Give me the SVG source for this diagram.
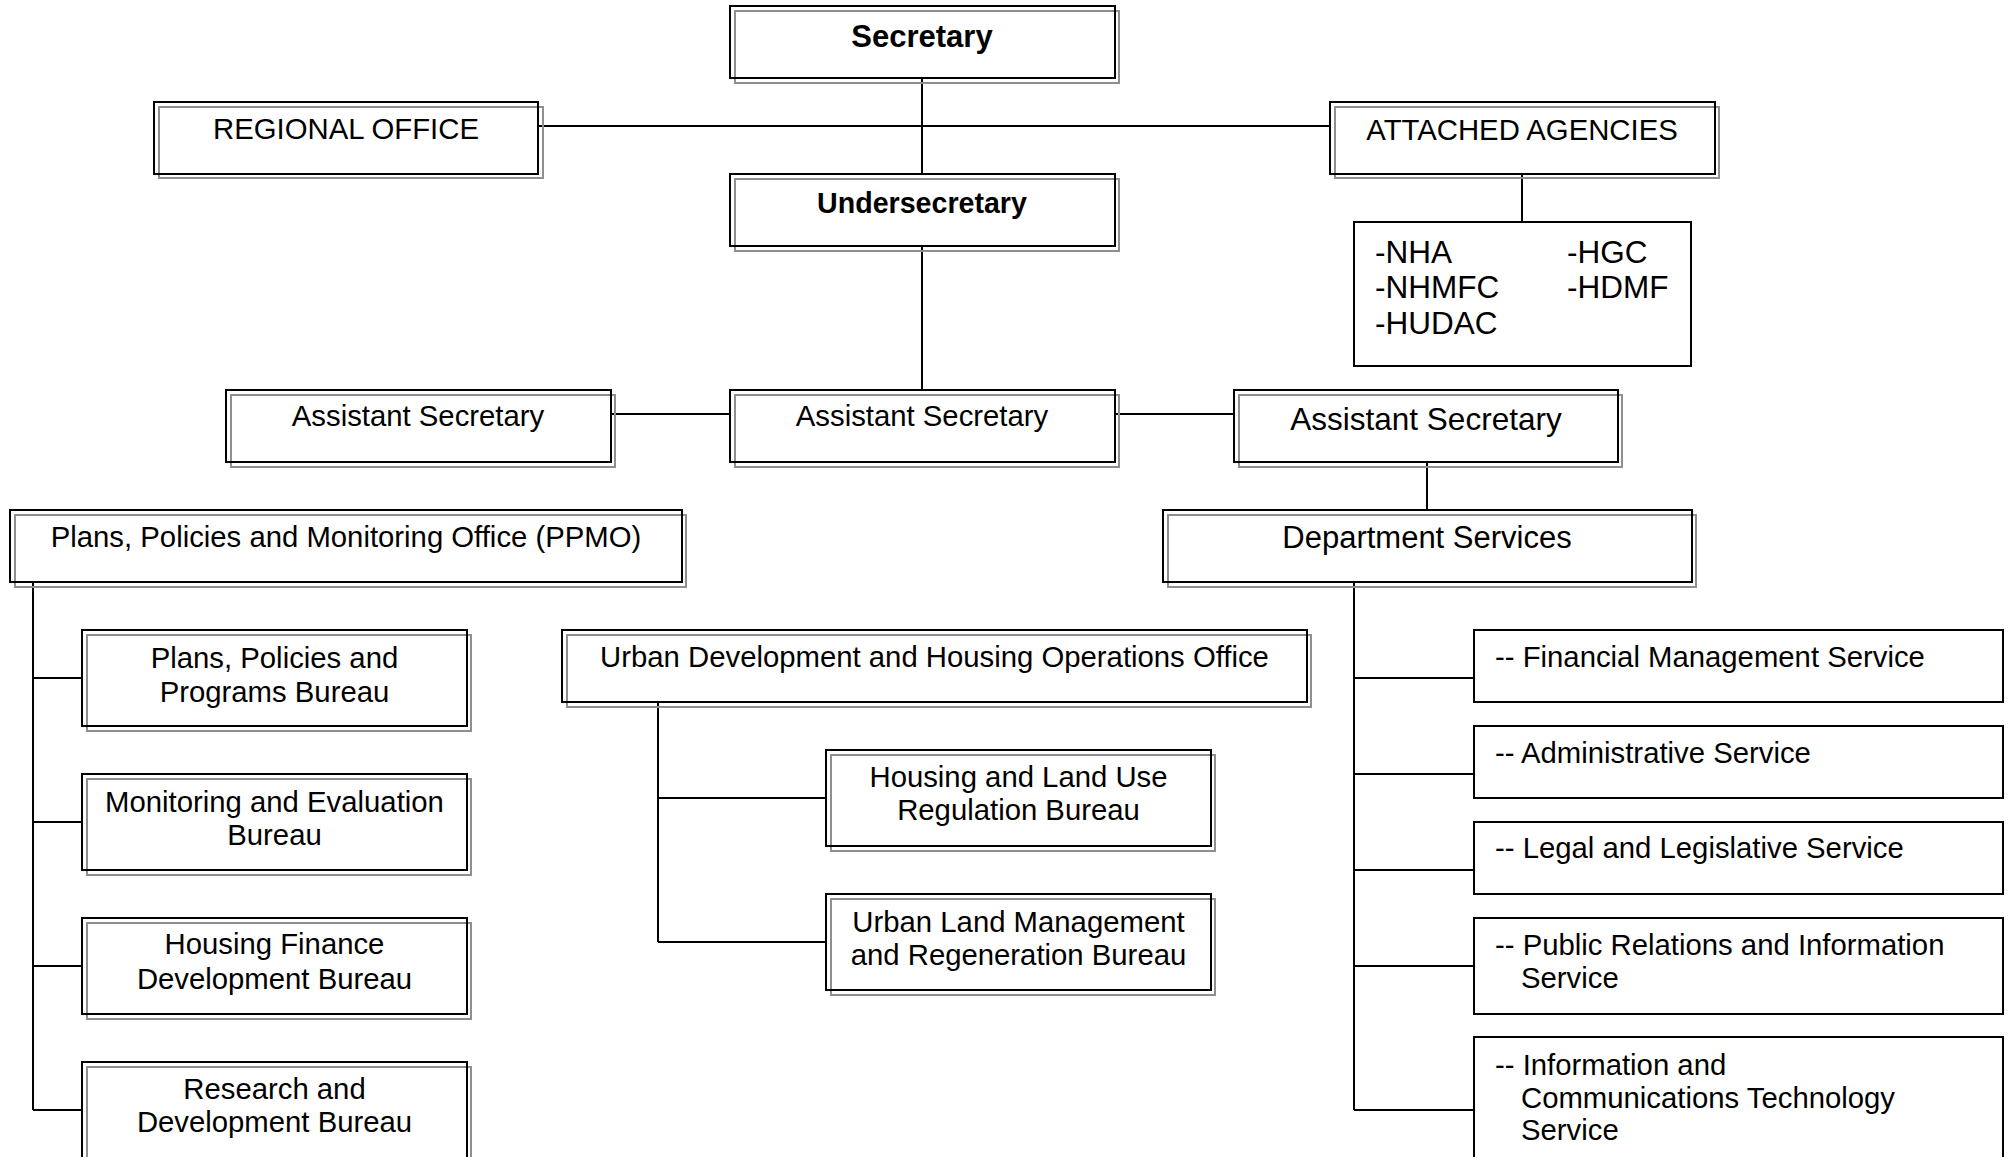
<svg xmlns="http://www.w3.org/2000/svg" width="2011" height="1157" viewBox="0 0 2011 1157">
<defs>
<style>
.bg{fill:#ffffff}
.sh{fill:none;stroke:#8f8f8f;stroke-width:2}
.bx{fill:none;stroke:#000;stroke-width:2}
.ln{fill:none;stroke:#000;stroke-width:2}
.t{font-family:"Liberation Sans",Arial,sans-serif;font-size:29.3px;fill:#000}
.c{text-anchor:middle}
.b{font-weight:bold}
.big{font-size:31.5px}
</style>
</defs>
<rect class="bg" x="0" y="0" width="2011" height="1157"/>
<g id="connectors">
<path class="ln" d="M922 78V174M538 126H1330M1522 174V222M922 246V390M611 414H731M1115 414H1234M1427 462V510"/>
<path class="ln" d="M33 582V1110M33 678H82M33 822H82M33 966H82M33 1110H82"/>
<path class="ln" d="M658 703V942M658 798H826M658 942H826"/>
<path class="ln" d="M1354 582V1110M1354 678H1474M1354 774H1474M1354 870H1474M1354 966H1474M1354 1110H1474"/>
</g>
<g id="secretary">
<rect class="sh" x="735" y="11" width="384" height="72"/>
<rect class="bx" x="730" y="6" width="385" height="72"/>
<text class="t c b" x="922" y="47" style="font-size:31px">Secretary</text>
</g>
<g id="regional-office">
<rect class="sh" x="159" y="107" width="384" height="71"/>
<rect class="bx" x="154" y="102" width="384" height="72"/>
<text class="t c" x="346" y="139">REGIONAL OFFICE</text>
</g>
<g id="attached-agencies">
<rect class="sh" x="1335" y="107" width="384" height="71"/>
<rect class="bx" x="1330" y="102" width="385" height="72"/>
<text class="t c" x="1522" y="140">ATTACHED AGENCIES</text>
</g>
<g id="agency-list">
<rect class="bx" x="1354" y="222" width="337" height="144"/>
<text class="t big" x="1375" y="263">-NHA</text>
<text class="t big" x="1375" y="298">-NHMFC</text>
<text class="t big" x="1375" y="334">-HUDAC</text>
<text class="t big" x="1567" y="263">-HGC</text>
<text class="t big" x="1567" y="298">-HDMF</text>
</g>
<g id="undersecretary">
<rect class="sh" x="735" y="179" width="384" height="72"/>
<rect class="bx" x="730" y="174" width="385" height="72"/>
<text class="t c b" x="922" y="213" style="font-size:28.6px">Undersecretary</text>
</g>
<g id="asst-sec-left">
<rect class="sh" x="231" y="395" width="384" height="72"/>
<rect class="bx" x="226" y="390" width="385" height="72"/>
<text class="t c" x="418" y="426">Assistant Secretary</text>
</g>
<g id="asst-sec-center">
<rect class="sh" x="735" y="395" width="384" height="72"/>
<rect class="bx" x="730" y="390" width="385" height="72"/>
<text class="t c" x="922" y="426">Assistant Secretary</text>
</g>
<g id="asst-sec-right">
<rect class="sh" x="1239" y="395" width="383" height="72"/>
<rect class="bx" x="1234" y="390" width="384" height="72"/>
<text class="t c big" x="1426" y="430">Assistant Secretary</text>
</g>
<g id="ppmo">
<rect class="sh" x="15" y="515" width="671" height="72"/>
<rect class="bx" x="10" y="510" width="672" height="72"/>
<text class="t c" x="346" y="547">Plans, Policies and Monitoring Office (PPMO)</text>
</g>
<g id="department-services">
<rect class="sh" x="1168" y="515" width="528" height="72"/>
<rect class="bx" x="1163" y="510" width="529" height="72"/>
<text class="t c" x="1427" y="548" style="font-size:31px">Department Services</text>
</g>
<g id="pppb">
<rect class="sh" x="87" y="635" width="384" height="96"/>
<rect class="bx" x="82" y="630" width="385" height="96"/>
<text class="t c" x="274.5" y="668">Plans, Policies and</text>
<text class="t c" x="274.5" y="702">Programs Bureau</text>
</g>
<g id="meb">
<rect class="sh" x="87" y="779" width="384" height="96"/>
<rect class="bx" x="82" y="774" width="385" height="96"/>
<text class="t c" x="274.5" y="812">Monitoring and Evaluation</text>
<text class="t c" x="274.5" y="845">Bureau</text>
</g>
<g id="hfdb">
<rect class="sh" x="87" y="923" width="384" height="96"/>
<rect class="bx" x="82" y="918" width="385" height="96"/>
<text class="t c" x="274.5" y="954">Housing Finance</text>
<text class="t c" x="274.5" y="989">Development Bureau</text>
</g>
<g id="rdb">
<rect class="sh" x="87" y="1067" width="384" height="100"/>
<rect class="bx" x="82" y="1062" width="385" height="100"/>
<text class="t c" x="274.5" y="1099">Research and</text>
<text class="t c" x="274.5" y="1132">Development Bureau</text>
</g>
<g id="udhoo">
<rect class="sh" x="567" y="635" width="744" height="72"/>
<rect class="bx" x="562" y="630" width="745" height="72"/>
<text class="t c" x="934.5" y="667">Urban Development and Housing Operations Office</text>
</g>
<g id="hlurb">
<rect class="sh" x="831" y="755" width="384" height="96"/>
<rect class="bx" x="826" y="750" width="385" height="96"/>
<text class="t c" x="1018.5" y="787">Housing and Land Use</text>
<text class="t c" x="1018.5" y="820">Regulation Bureau</text>
</g>
<g id="ulmrb">
<rect class="sh" x="831" y="899" width="384" height="96"/>
<rect class="bx" x="826" y="894" width="385" height="96"/>
<text class="t c" x="1018.5" y="932">Urban Land Management</text>
<text class="t c" x="1018.5" y="965">and Regeneration Bureau</text>
</g>
<g id="fms">
<rect class="bx" x="1474" y="630" width="529" height="72"/>
<text class="t" x="1495" y="667">-- Financial Management Service</text>
</g>
<g id="as">
<rect class="bx" x="1474" y="726" width="529" height="72"/>
<text class="t" x="1495" y="763">-- Administrative Service</text>
</g>
<g id="lls">
<rect class="bx" x="1474" y="822" width="529" height="72"/>
<text class="t" x="1495" y="858">-- Legal and Legislative Service</text>
</g>
<g id="pris">
<rect class="bx" x="1474" y="918" width="529" height="96"/>
<text class="t" x="1495" y="955">-- Public Relations and Information</text>
<text class="t" x="1521" y="988">Service</text>
</g>
<g id="icts">
<rect class="bx" x="1474" y="1037" width="529" height="125"/>
<text class="t" x="1495" y="1075">-- Information and</text>
<text class="t" x="1521" y="1108">Communications Technology</text>
<text class="t" x="1521" y="1140">Service</text>
</g>
</svg>
